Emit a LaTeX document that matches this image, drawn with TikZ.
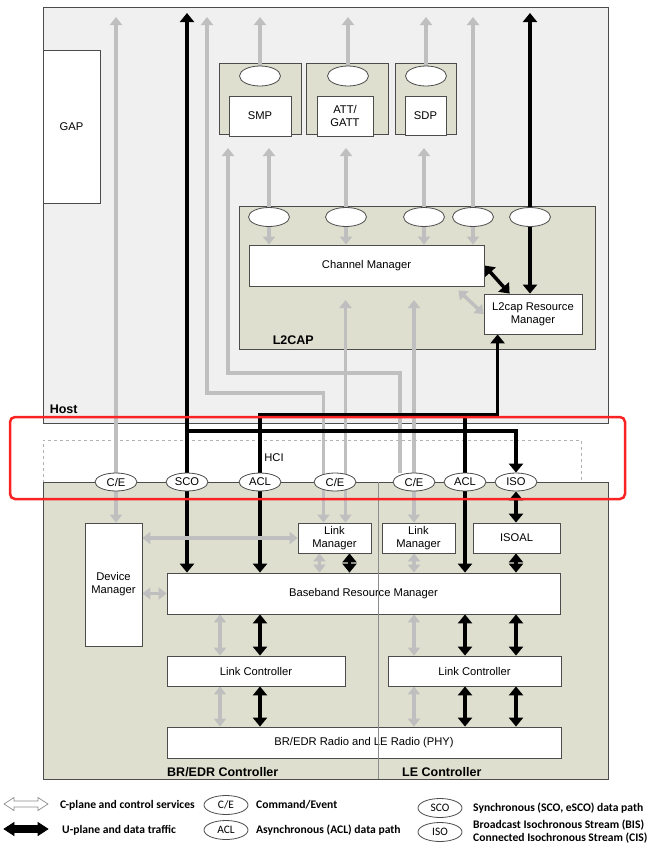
\documentclass[tikz,border=0pt]{standalone}
\usepackage{fontspec}
\setmainfont{Liberation Sans}
\newfontfamily\legendfont{Carlito}
\usetikzlibrary{fit,calc,shapes.geometric,arrows.meta}
\definecolor{hostGray}{RGB}{240,240,240}
\definecolor{panelGray}{RGB}{222,223,207}
\definecolor{markRed}{RGB}{250,35,35}
\colorlet{pathGray}{black!25}
\colorlet{edgeGray}{black!70}
\pgfdeclarelayer{back}
\pgfdeclarelayer{mid}
\pgfsetlayers{back,mid,main}

\begin{document}
\begin{tikzpicture}[x=1pt, y=-1pt,
    every node/.style={font=\fontsize{11.2}{13}\selectfont, align=center},
    area/.style={draw=edgeGray, line width=0.8pt, inner sep=0pt},
    box/.style={draw=edgeGray, fill=white, line width=0.8pt, inner sep=0pt},
    port/.style={ellipse, draw=edgeGray, fill=white, line width=0.8pt, minimum width=42pt, minimum height=18pt, inner sep=0pt},
    heading/.style={font=\fontsize{12.5}{14}\selectfont\bfseries, inner sep=0pt, anchor=base west},
    cpath/.style={draw=pathGray, line width=3.5pt, -{Triangle[width=12pt,length=8pt]}},
    cboth/.style={draw=pathGray, line width=3.5pt, {Triangle[width=12pt,length=8pt]}-{Triangle[width=12pt,length=8pt]}},
    upath/.style={draw=black, line width=3.5pt, -{Triangle[width=14pt,length=9pt]}},
    uboth/.style={draw=black, line width=3.5pt, {Triangle[width=14pt,length=9pt]}-{Triangle[width=14pt,length=9pt]}},
    keytext/.style={font=\legendfont\fontsize{11.6}{13}\selectfont\bfseries, anchor=west, align=left, inner sep=0pt},
    keyport/.style={port, minimum width=44pt, minimum height=19pt, font=\legendfont\fontsize{11.4}{13}\selectfont}]
    \useasboundingbox (0,0) rectangle (650,849);

    % Panels (back layer)
    \begin{pgfonlayer}{back}
        \node[area, fill=hostGray, fit={(43,7) (608,423)}] (host) {};
        \node[area, fill=panelGray, fit={(219,63) (301,134)}] (smpp) {};
        \node[area, fill=panelGray, fit={(306,63) (388,134)}] (attp) {};
        \node[area, fill=panelGray, fit={(395,63) (456,134)}] (sdpp) {};
        \node[area, fill=panelGray, fit={(239,206) (595,349)}] (l2cap) {};
        \node[draw=black!30, dashed, line width=0.5pt, inner sep=0pt, fit={(43,440) (581,482)}] (hci) {};
        \node[area, fill=panelGray, fit={(43,482) (608,779)}] (ctrl) {};
    \end{pgfonlayer}

    % Host
    \node[heading] (hostlbl) at ([xshift=7pt,yshift=10pt]host.south west) {Host};
    \node[box, minimum width=57pt, minimum height=153pt] (gap) at (71.5,126.5) {GAP};
    \node[port, minimum width=41pt, minimum height=20pt] (smpo) at (260,76) {};
    \node[port, minimum width=41pt, minimum height=20pt] (atto) at (348,76) {};
    \node[port, minimum width=41pt, minimum height=20pt] (sdpo) at (426,76) {};
    \node[box, minimum width=62pt, minimum height=40pt] (smp) at (260,116) {SMP};
    \node[box, minimum width=56pt, minimum height=40pt] (att) at (345,116) {ATT/\\GATT};
    \node[box, minimum width=41pt, minimum height=39pt] (sdp) at (425.5,115.5) {SDP};

    % L2CAP
    \foreach \n/\x in {lo1/269, lo2/346, lo3/424, lo4/473, lo5/530}
        \node[port, minimum width=41pt, minimum height=19pt] (\n) at (\x,217) {};
    \node[box, minimum width=235pt, minimum height=41pt] (cm) at (366.5,265.5) {Channel Manager};
    \node[box, minimum width=98pt, minimum height=40pt] (lrm) at (533,314) {L2cap Resource\\Manager};
    \node[heading] (l2caplbl) at ([xshift=34pt,yshift=5pt]l2cap.south west) {L2CAP};

    % HCI
    \node (hcilbl) at (274,458) {HCI};
    \node[port] (hce1) at (116,482) {C/E};
    \node[port] (hsco) at (187,482) {SCO};
    \node[port] (hacl1) at (260,482) {ACL};
    \node[port] (hce2) at (335,482) {C/E};
    \node[port] (hce3) at (414,482) {C/E};
    \node[port] (hacl2) at (465,482) {ACL};
    \node[port] (hiso) at (516,482) {ISO};

    % Controllers
    \node[box, minimum width=57pt, minimum height=123pt] (dm) at (113.5,584.5) {Device\\Manager};
    \node[box, minimum width=73pt, minimum height=30pt] (lmb) at (334.5,538) {Link\\Manager};
    \node[box, minimum width=73pt, minimum height=30pt] (lml) at (418.5,538) {Link\\Manager};
    \node[box, minimum width=87pt, minimum height=30pt] (isoal) at (516.5,538) {ISOAL};
    \node[box, minimum width=393pt, minimum height=41pt] (brm) at (363.5,593.5) {Baseband Resource Manager};
    \node[box, minimum width=178pt, minimum height=30pt] (lcb) at (256,671) {Link Controller};
    \node[box, minimum width=173pt, minimum height=30pt] (lcl) at (474.5,671) {Link Controller};
    \node[box, minimum width=394pt, minimum height=31pt] (phy) at (364,742.5) {BR/EDR Radio and LE Radio (PHY)};
    \node[heading] (brlbl) at (167,776) {BR/EDR Controller};
    \node[heading] (lelbl) at (402,776) {LE Controller};

    % Path levels
    \coordinate (topedge) at (0,17);
    \coordinate (topblk) at (0,13);
    \coordinate (svcbase) at (0,148);
    \coordinate (cmbase) at (0,300);
    \coordinate (bendA) at (207,393);
    \coordinate (bendB) at (228,373);
    \coordinate (aclbus) at (0,415);
    \coordinate (isobus) at (0,431);
    \coordinate (split) at (378,0);
    \coordinate (gl) at (220,0);
    \coordinate (lrmfoot) at ([xshift=14pt]lrm.south west);

    \begin{pgfonlayer}{mid}
        % C-plane paths
        \draw[cboth] (hce1 |- dm.north) -- (hce1 |- topedge);
        \draw[cboth] ([xshift=-11pt]lmb.north) |- (bendA) -- (bendA |- topedge);
        \draw[cpath] ([xshift=-14pt]hce3.north) |- (bendB) -- (bendB |- svcbase);
        \draw[cboth] ([xshift=11pt]lmb.north) -- ([xshift=11pt]lmb.north |- cmbase);
        \draw[cboth] (hce3 |- lml.north) -- (hce3 |- cmbase);
        \foreach \o in {lo1,lo2,lo3}
            \draw[cboth] (\o |- svcbase) -- (\o |- cm.north);
        \draw[cboth] (lo4 |- topedge) -- (lo4 |- cm.north);
        \foreach \o in {smpo,atto,sdpo}
            \draw[cpath] (\o.north) -- (\o |- topedge);
        \draw[cboth] ([xshift=-26pt,yshift=-4pt]cm.south east) -- (lrm.west);

        % U-plane paths
        \draw[uboth] (hsco |- topblk) -- (hsco |- brm.north);
        \draw[upath] (hsco |- isobus) -| (hiso.north);
        \draw[uboth] (lrmfoot) -- (lrmfoot |- aclbus) -| (hacl1 |- brm.north);
        \draw[upath] (hacl2 |- aclbus) -- (hacl2 |- brm.north);
        \draw[uboth] (lo5 |- topblk) -- (lo5 |- lrm.north);
        \draw[uboth] (cm.east) -- ([xshift=26pt]lrm.north west);

        % Controller paths
        \draw[cboth] (dm.east |- lmb.west) -- (lmb.west);
        \draw[cboth] (dm.east |- brm.west) -- (brm.west);
        \draw[cboth] ([xshift=-15pt]lmb.south) -- ([xshift=-15pt]lmb.south |- brm.north);
        \draw[uboth] ([xshift=15pt]lmb.south) -- ([xshift=15pt]lmb.south |- brm.north);
        \draw[cboth] (hce3 |- lml.south) -- (hce3 |- brm.north);
        \draw[uboth] (hiso.south) -- (hiso |- isoal.north);
        \draw[uboth] (hiso |- isoal.south) -- (hiso |- brm.north);
        \foreach \a/\b in {brm/lcb, lcb/phy} {
            \draw[cboth] (gl |- \a.south) -- (gl |- \b.north);
            \draw[uboth] (hacl1 |- \a.south) -- (hacl1 |- \b.north);
        }
        \foreach \a/\b in {brm/lcl, lcl/phy} {
            \draw[cboth] (hce3 |- \a.south) -- (hce3 |- \b.north);
            \draw[uboth] (hacl2 |- \a.south) -- (hacl2 |- \b.north);
            \draw[uboth] (hiso |- \a.south) -- (hiso |- \b.north);
        }
    \end{pgfonlayer}

    % BR/EDR | LE split
    \draw[black!45, line width=0.6pt] (ctrl.north -| split) -- (ctrl.south -| split);

    % Highlight of the HCI
    \node[draw=markRed, line width=2.5pt, rounded corners=5pt, inner sep=0pt, fit={(10,417) (625,499)}] (focus) {};

    % Legend
    \coordinate (keyc) at (26,804);
    \coordinate (keyu) at (26,829);
    \draw[black!45, fill=white, line width=0.7pt] ($(keyc)+(-22,0)$) -- ++(10,-6.5) -- ++(0,3.5) -- ++(24,0) -- ++(0,-3.5)
        -- ++(10,6.5) -- ++(-10,6.5) -- ++(0,-3.5) -- ++(-24,0) -- ++(0,3.5) -- cycle;
    \draw[black, fill=black, line width=0.7pt] ($(keyu)+(-22,0)$) -- ++(10,-6.5) -- ++(0,3) -- ++(24,0) -- ++(0,-3)
        -- ++(10,6.5) -- ++(-10,6.5) -- ++(0,-3) -- ++(-24,0) -- ++(0,3) -- cycle;
    \node[keytext] (keycp) at (60,805) {C-plane and control services};
    \node[keytext] (keyup) at (62,830) {U-plane and data traffic};
    \node[keyport] (keyce) at (226,805) {C/E};
    \node[keyport] (keyacl) at (226,830) {ACL};
    \node[keytext] (keycmd) at (256,805) {Command/Event};
    \node[keytext] (keyasy) at (256,830) {Asynchronous (ACL) data path};
    \node[keyport] (keysco) at (440,808) {SCO};
    \node[keyport] (keyiso) at (440,832) {ISO};
    \node[keytext] (keysyn) at (473,808) {Synchronous (SCO, eSCO) data path};
    \node[keytext] (keybis) at (473,832) {Broadcast Isochronous Stream (BIS)\\Connected Isochronous Stream (CIS)};
\end{tikzpicture}
\end{document}
